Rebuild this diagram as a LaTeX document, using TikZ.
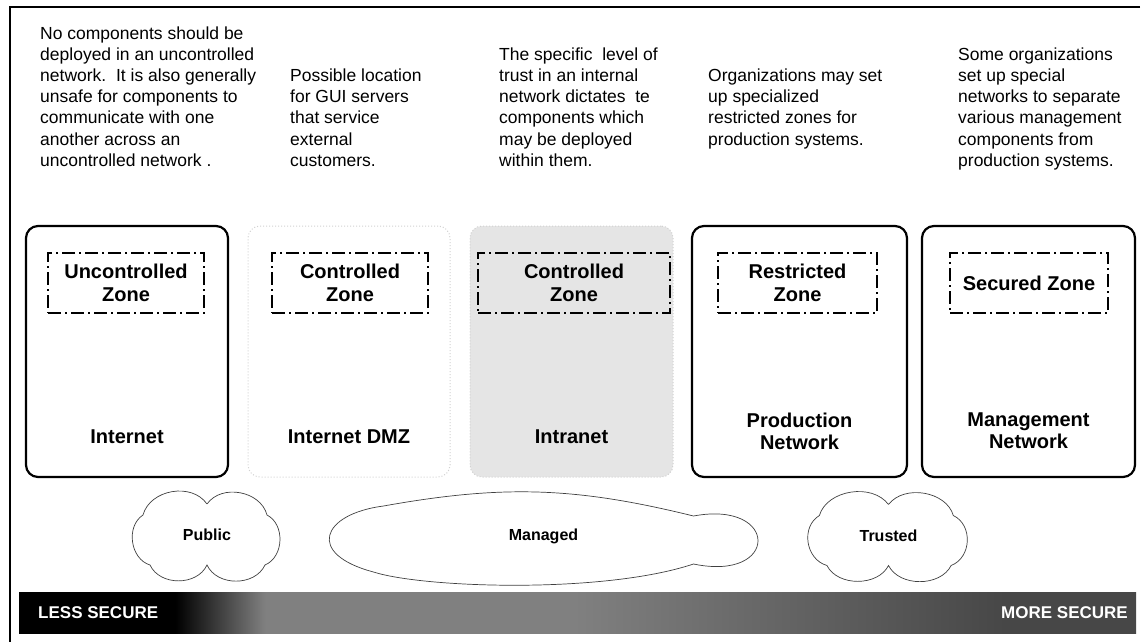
\documentclass[tikz,border=0pt]{standalone}
\usepackage{fontspec}
\setmainfont{Liberation Sans}
\pgfdeclarehorizontalshading{securebar}{100bp}{color(0bp)=(black); color(32bp)=(black); color(36bp)=(black!50); color(50bp)=(black!50); color(69bp)=(black!72); color(100bp)=(black!72)}
\begin{document}
\begin{tikzpicture}[x=1pt,y=-1pt,
 note/.style={anchor=north west,align=left,inner sep=0pt,font=\fontsize{17.5}{21.2}\selectfont},
 netbox/.style={draw,line width=2.2pt,rounded corners=12pt,minimum width=#1,minimum height=251pt,inner sep=0pt},
 paleboxed/.style={draw=black!18,line width=1pt,dotted,rounded corners=12pt,minimum width=#1,minimum height=251pt,inner sep=0pt},
 zonebox/.style={draw,line width=1.4pt,dash pattern=on 13pt off 4pt on 2pt off 4pt,minimum width=#1,minimum height=60pt,align=center,inner sep=0pt,font=\fontsize{20}{23}\selectfont\bfseries},
 netlabel/.style={align=center,inner sep=0pt,font=\fontsize{20}{22}\selectfont\bfseries},
 cloudtext/.style={inner sep=0pt,font=\fontsize{16}{18}\selectfont\bfseries},
 cloudline/.style={draw=black!75,line width=0.7pt},
 puff/.style={bend left=65,looseness=1.05},
 barlabel/.style={text=white,inner sep=0pt,font=\fontsize{17}{19}\selectfont\bfseries}]
 \useasboundingbox (0,0) rectangle (1144,642);
 \draw[line width=1.6pt] (1140,7) -- (10,7) -- (10,642);
 \node[note] (txtinet) at (40,26.3) {No components should be\\deployed in an uncontrolled\\network.\ \ It is also generally\\unsafe for components to\\communicate with one\\another across an\\uncontrolled network .};
 \node[note] (txtdmz) at (290,68.7) {Possible location\\for GUI servers\\that service\\external\\customers.};
 \node[note] (txtintra) at (499,47.5) {The specific\ \ level of\\trust in an internal\\network dictates\ \ te\\components which\\may be deployed\\within them.};
 \node[note] (txtprod) at (708,68.7) {Organizations may set\\up specialized\\restricted zones for\\production systems.};
 \node[note] (txtmgmt) at (958,47.5) {Some organizations\\set up special\\networks to separate\\various management\\components from\\production systems.};
 \node[netbox=202pt] (inet) at (127,351.5) {};
 \node[paleboxed=202pt] (dmz) at (349,351.5) {};
 \node[paleboxed=203pt,fill=black!10] (intra) at (571.5,351.5) {};
 \node[netbox=215pt] (prod) at (799.5,351.5) {};
 \node[netbox=213pt] (mgmt) at (1028.5,351.5) {};
 \node[zonebox=156pt] (inetzone) at (126,283) {Uncontrolled\\Zone};
 \node[zonebox=156pt] (dmzzone) at (350,283) {Controlled\\Zone};
 \node[zonebox=192pt] (intrazone) at (574,283) {Controlled\\Zone};
 \node[zonebox=159pt] (prodzone) at (797.5,283) {Restricted\\Zone};
 \node[zonebox=158pt] (mgmtzone) at (1029,283) {Secured Zone};
 \node[netlabel] (inetlbl) at (127,437) {Internet};
 \node[netlabel] (dmzlbl) at (349,437) {Internet DMZ};
 \node[netlabel] (intralbl) at (571.5,437) {Intranet};
 \node[netlabel] (prodlbl) at (799.5,431) {Production\\Network};
 \node[netlabel] (mgmtlbl) at (1028.5,431) {Management\\Network};
 \node[cloudtext] (public) at (207,535) {Public};
 \node[cloudtext] (managed) at (543.5,536) {Managed};
 \node[cloudtext] (trusted) at (888.5,535.5) {Trusted};
 \draw[cloudline,shift={(public)}] (0,-31) to[puff] (60,-20) to[puff] (58,30) to[puff] (0,30)
  to[puff] (-57,30) to[puff] (-64,-20) to[puff] (0,-31);
 \draw[cloudline,shift={(trusted)},xscale=1.08] (0,-31) to[puff] (60,-20) to[puff] (58,30) to[puff] (0,30)
  to[puff] (-57,30) to[puff] (-64,-20) to[puff] (0,-31);
 \draw[cloudline,shift={(managed)}] (-160,-30) to[bend left=12] (150,-20)
  .. controls (236,-36) and (236,46) .. (150,28)
  .. controls (60,58) and (-120,52) .. (-170,36)
  .. controls (-238,18) and (-222,-22) .. (-160,-30);
 \shade[shading=securebar] (19,592) rectangle (1136,633);
 \node[barlabel,anchor=west] (less) at (38,612.5) {LESS SECURE};
 \node[barlabel,anchor=east] (more) at (1128,612.5) {MORE SECURE};
\end{tikzpicture}
\end{document}
